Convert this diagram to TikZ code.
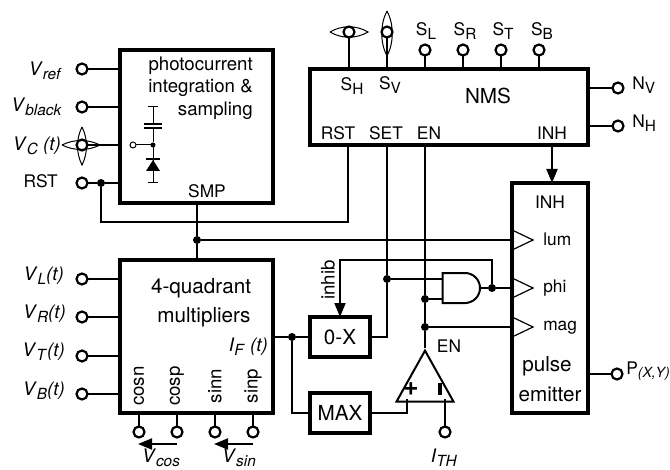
\documentclass[tikz,border=0pt]{standalone}
\usepackage{fontspec}
\setmainfont{TeX Gyre Heros}
\usetikzlibrary{arrows.meta,shapes.geometric,shapes.gates.logic.US}
\newlength{\du}
\setlength{\du}{0.75pt}
\newcommand{\bigfont}{\fontsize{15.5pt}{17pt}\selectfont}
\newcommand{\midfont}{\fontsize{14pt}{14.2pt}\selectfont}
\newcommand{\smallfont}{\fontsize{13pt}{14pt}\selectfont}
\newcommand{\lsub}[1]{\raisebox{-0.4ex}{\fontsize{11.5pt}{12pt}\selectfont #1}}
\newcommand{\vlab}[2]{\textit{#1}\lsub{\textit{#2}}}
\tikzset{
  wire/.style={line width=2\du},
  blockbox/.style={draw,line width=3.4\du,outer sep=0pt,inner sep=0pt},
  smallbox/.style={blockbox,minimum width=60\du,minimum height=40\du},
  term/.style={circle,draw,line width=2.2\du,fill=white,minimum size=11\du,inner sep=0pt,outer sep=0pt},
  junction/.style={circle,fill=black,minimum size=8\du,inner sep=0pt,outer sep=0pt},
  lens/.style={line width=1\du},
  txt/.style={inner sep=0pt,font=\midfont},
  pinlab/.style={inner sep=0pt,font=\smallfont},
  headtip/.style={-{Stealth[length=10.5pt,width=8.25pt,inset=0pt]}}
}

\begin{document}
\begin{tikzpicture}
\pgftransformyscale{-1.000000}
\useasboundingbox (0\du,0\du) rectangle (670\du,470\du);
% blocks
\node[blockbox,minimum width=153\du,minimum height=153\du] (photobox) at (196.5\du,126.5\du) {};
\node[blockbox,minimum width=153\du,minimum height=153\du] (mulbox) at (196.5\du,336.5\du) {};
\node[blockbox,minimum width=278\du,minimum height=76\du] (nmsbox) at (449\du,107\du) {};
\node[blockbox,minimum width=76\du,minimum height=230\du] (pulsebox) at (550\du,298\du) {};
\node[smallbox] (zerox) at (340\du,337\du) {\bigfont 0-X};
\node[smallbox] (maxbox) at (340\du,413\du) {\bigfont MAX};
\node[and gate US,draw,logic gate inputs=nn,line width=2\du,minimum width=34\du,minimum height=30\du,inner sep=0pt] (andgate) at (460\du,288\du) {};
\node[isosceles triangle,isosceles triangle stretches,shape border rotate=90,draw,line width=2\du,minimum width=57\du,minimum height=51\du,inner sep=0pt,anchor=apex] (cmp) at (425\du,348\du) {};
% left terminals
\node[term] (vref) at (82\du,69\du) {};
\node[term] (vblack) at (82\du,107\du) {};
\node[term] (vc) at (82\du,145\du) {};
\node[term] (vrst) at (82\du,183\du) {};
\node[term] (vl) at (82\du,279\du) {};
\node[term] (vr) at (82\du,317\du) {};
\node[term] (vt) at (82\du,356\du) {};
\node[term] (vb) at (82\du,394\du) {};
\node[txt,anchor=east] (vreflab) at (62\du,71\du) {\vlab{V}{ref}};
\node[txt,anchor=east] (vblacklab) at (62\du,107\du) {\vlab{V}{black}};
\node[txt,anchor=east] (vclab) at (61\du,146\du) {\vlab{V}{C} \textit{(t)}};
\node[pinlab,anchor=east] (vrstlab) at (58\du,181\du) {RST};
\node[txt,anchor=east] (vllab) at (64\du,276\du) {\vlab{V}{L}\textit{(t)}};
\node[txt,anchor=east] (vrlab) at (66\du,314\du) {\vlab{V}{R}\textit{(t)}};
\node[txt,anchor=east] (vtlab) at (65\du,352\du) {\vlab{V}{T}\textit{(t)}};
\node[txt,anchor=east] (vblab) at (65\du,391\du) {\vlab{V}{B}\textit{(t)}};
\draw[wire] (vref) -- (vref -| photobox.west);
\draw[wire] (vblack) -- (vblack -| photobox.west);
\draw[wire] (vc) -- (vc -| photobox.west);
\node[junction] (rstdot) at (101\du,183\du) {};
\draw[wire] (vrst) -- (rstdot) -- (rstdot -| photobox.west);
\draw[wire] (vl) -- (vl -| mulbox.west);
\draw[wire] (vr) -- (vr -| mulbox.west);
\draw[wire] (vt) -- (vt -| mulbox.west);
\draw[wire] (vb) -- (vb -| mulbox.west);
% lenses on the contrast input
\draw[lens] (62\du,145\du) .. controls (74\du,139\du) and (88\du,139\du) .. (100\du,145\du) .. controls (88\du,151\du) and (74\du,151\du) .. (62\du,145\du);
\draw[lens] (82\du,127\du) .. controls (76\du,139\du) and (76\du,153\du) .. (82\du,165\du) .. controls (88\du,153\du) and (88\du,139\du) .. (82\du,127\du);
% photocell
\node[anchor=east,inner sep=0pt,align=right,font=\midfont] (phototext) at (253\du,88\du) {photocurrent\\[3.5\du]integration \&\\[3.5\du]sampling};
\node[pinlab] (smplab) at (207\du,191\du) {SMP};
\node[term,line width=1\du,minimum size=6\du] (cellout) at (133\du,145\du) {};
\node[junction,minimum size=5\du] (celldot) at (153\du,145\du) {};
\coordinate (celltop) at (153\du,107\du);
\coordinate (cellbot) at (153\du,183\du);
\draw[line width=1\du] (cellout) -- (celldot);
\draw[line width=1\du] (celltop) -- (153\du,124\du);
\draw[line width=1\du] (153\du,128\du) -- (celldot) -- (cellbot);
\draw[line width=1\du] (148\du,107\du) -- (158\du,107\du);
\draw[line width=1\du] (148\du,183\du) -- (158\du,183\du);
\draw[line width=1.2\du] (144\du,124\du) -- (162\du,124\du);
\draw[line width=1.2\du] (144\du,128\du) -- (162\du,128\du);
\draw[line width=1.6\du] (146\du,159\du) -- (160\du,159\du);
\fill (153\du,160\du) -- (146\du,171\du) -- (160\du,171\du) -- cycle;
% multipliers
\node[font=\bigfont,inner sep=0pt] (multext) at (201\du,288\du) {4-quadrant};
\node[font=\bigfont,inner sep=0pt] (multext2) at (204\du,317\du) {multipliers};
\node[txt,anchor=east] (iflab) at (268\du,347\du) {\vlab{I}{F} \textit{(t)}};
\node[txt,rotate=90] (cosnlab) at (139\du,386\du) {cosn};
\node[txt,rotate=90] (cosplab) at (177\du,386\du) {cosp};
\node[txt,rotate=90] (sinnlab) at (215\du,386\du) {sinn};
\node[txt,rotate=90] (sinplab) at (253\du,386\du) {sinp};
\node[term] (cosn) at (139\du,432\du) {};
\node[term] (cosp) at (177\du,432\du) {};
\node[term] (sinn) at (215\du,432\du) {};
\node[term] (sinp) at (253\du,432\du) {};
\draw[wire] (cosn) -- (cosn |- mulbox.south);
\draw[wire] (cosp) -- (cosp |- mulbox.south);
\draw[wire] (sinn) -- (sinn |- mulbox.south);
\draw[wire] (sinp) -- (sinp |- mulbox.south);
\coordinate (coshead) at (138\du,444\du);
\coordinate (sinhead) at (214\du,444\du);
\draw[wire,headtip] (cosp |- coshead) -- (coshead);
\draw[wire,headtip] (sinp |- sinhead) -- (sinhead);
\node[txt] (vcoslab) at (161\du,458\du) {\vlab{V}{cos}};
\node[txt] (vsinlab) at (239\du,458\du) {\vlab{V}{sin}};
% NMS
\node[font=\bigfont,inner sep=0pt] (nmstext) at (488\du,96\du) {NMS};
\node[term] (sl) at (425\du,50\du) {};
\node[term] (sr) at (463\du,50\du) {};
\node[term] (st) at (501\du,50\du) {};
\node[term] (sb) at (539\du,50\du) {};
\node[term] (sh) at (349\du,32\du) {};
\node[term] (sv) at (387\du,32\du) {};
\draw[wire] (sl) -- (sl |- nmsbox.north);
\draw[wire] (sr) -- (sr |- nmsbox.north);
\draw[wire] (st) -- (st |- nmsbox.north);
\draw[wire] (sb) -- (sb |- nmsbox.north);
\draw[wire] (sh) -- (sh |- nmsbox.north);
\draw[wire] (sv) -- (sv |- nmsbox.north);
\draw[lens] (330\du,32\du) .. controls (342\du,25\du) and (356\du,25\du) .. (368\du,32\du) .. controls (356\du,39\du) and (342\du,39\du) .. (330\du,32\du);
\draw[lens] (387\du,11\du) .. controls (380\du,24\du) and (380\du,43\du) .. (387\du,56\du) .. controls (394\du,43\du) and (394\du,24\du) .. (387\du,11\du);
\node[pinlab] (sllab) at (426\du,31\du) {S\lsub{L}};
\node[pinlab] (srlab) at (465\du,31\du) {S\lsub{R}};
\node[pinlab] (stlab) at (503\du,31\du) {S\lsub{T}};
\node[pinlab] (sblab) at (542\du,31\du) {S\lsub{B}};
\node[pinlab] (shlab) at (352\du,86\du) {S\lsub{H}};
\node[pinlab] (svlab) at (390\du,85\du) {S\lsub{V}};
\node[pinlab] (nmsrst) at (338\du,133\du) {RST};
\node[pinlab] (nmsset) at (386\du,133\du) {SET};
\node[pinlab] (nmsen) at (429\du,133\du) {EN};
\node[pinlab] (nmsinh) at (552\du,133\du) {INH};
\node[term] (nv) at (618\du,88\du) {};
\node[term] (nh) at (618\du,126\du) {};
\draw[wire] (nv) -- (nv -| nmsbox.east);
\draw[wire] (nh) -- (nh -| nmsbox.east);
\node[pinlab,anchor=west] (nvlab) at (632\du,85\du) {N\lsub{V}};
\node[pinlab,anchor=west] (nhlab) at (632\du,123\du) {N\lsub{H}};
% pulse emitter
\node[pinlab] (pulseinh) at (550\du,202\du) {INH};
\node[pinlab,anchor=west] (lumlab) at (543\du,239\du) {lum};
\node[pinlab,anchor=west] (philab) at (543\du,288\du) {phi};
\node[pinlab,anchor=west] (maglab) at (543\du,328\du) {mag};
\node[font=\bigfont,inner sep=0pt] (pulsetext) at (547\du,366\du) {pulse};
\node[font=\bigfont,inner sep=0pt] (pulsetext2) at (550\du,394\du) {emitter};
\draw[line width=1.2\du] (512\du,230\du) -- (533\du,240\du) -- (512\du,250\du);
\draw[line width=1.2\du] (512\du,278\du) -- (533\du,288\du) -- (512\du,298\du);
\draw[line width=1.2\du] (512\du,317\du) -- (533\du,327\du) -- (512\du,337\du);
\draw[wire,headtip] (nmsinh.south |- nmsbox.south) -- (nmsinh.south |- pulsebox.north);
\node[term] (pout) at (617\du,374\du) {};
\draw[wire] (pout) -- (pout -| pulsebox.east);
\node[pinlab,anchor=west] (poutlab) at (626\du,371\du) {P\raisebox{-0.4ex}{\fontsize{10.5pt}{12pt}\selectfont\textit{(X,Y)}}};
% control wires
\coordinate (rstbend) at (348\du,222\du);
\coordinate (rstpin) at (348\du,145\du);
\draw[wire] (rstdot) |- (rstbend) -- (rstpin);
\coordinate (smppin) at (197\du,203\du);
\coordinate (mulpin) at (197\du,260\du);
\node[junction] (lumdot) at (197\du,240\du) {};
\coordinate (lumpin) at (512\du,240\du);
\draw[wire] (smppin) -- (lumdot) -- (mulpin);
\draw[wire] (lumdot) -- (lumpin);
\coordinate (setpin) at (387\du,145\du);
\node[junction] (setdot) at (387\du,279\du) {};
\draw[wire] (setpin) -- (setdot) |- (zerox.east);
\draw[wire] (setdot) -- (setdot -| andgate.input 1);
\coordinate (enpin) at (425\du,145\du);
\node[junction] (anddot) at (425\du,299\du) {};
\node[junction] (magdot) at (425\du,327\du) {};
\coordinate (magpin) at (512\du,327\du);
\draw[wire] (enpin) -- (anddot) -- (magdot) -- (cmp.apex);
\draw[wire] (anddot) -- (anddot -| andgate.input 2);
\draw[wire] (magdot) -- (magpin);
\node[junction] (phidot) at (492\du,288\du) {};
\coordinate (phipin) at (512\du,288\du);
\draw[wire] (andgate.output) -- (phidot) -- (phipin);
\coordinate (inhibbend) at (492\du,260\du);
\draw[wire,headtip] (phidot) -- (inhibbend) -| (zerox.north);
\node[txt,rotate=90] (inhiblab) at (328\du,280\du) {inhib};
\node[junction] (ifdot) at (292\du,337\du) {};
\draw[wire] (ifdot -| mulbox.east) -- (ifdot) -- (zerox.west);
\draw[wire] (ifdot) |- (maxbox.west);
\coordinate (cmpplus) at (407\du,399\du);
\coordinate (cmpminus) at (445\du,399\du);
\draw[wire] (maxbox.east) -| (cmpplus);
\node[term] (ith) at (445\du,432\du) {};
\draw[wire] (ith) -- (cmpminus);
\node[txt] (ithlab) at (444\du,458\du) {\vlab{I}{TH}};
\node[pinlab] (enlab) at (449\du,346\du) {EN};
\node[font=\bfseries\fontsize{20pt}{20pt}\selectfont,inner sep=0pt] (pluslab) at (411\du,389\du) {+};
\draw[line width=3.4\du] (440\du,383\du) -- (440\du,395\du);
\end{tikzpicture}
\end{document}
